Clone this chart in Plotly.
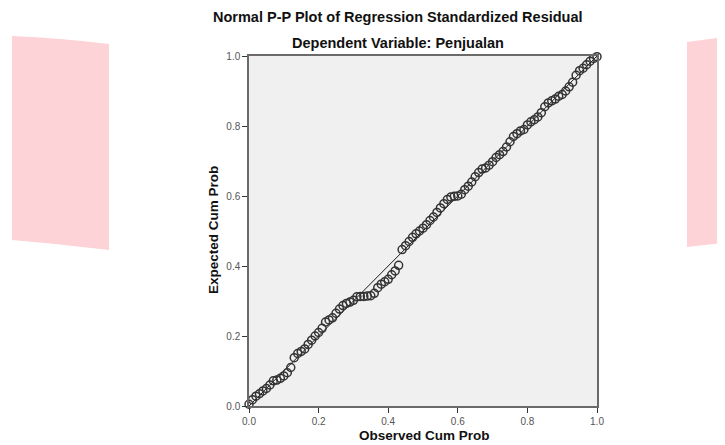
import plotly.graph_objects as go

# Observed cumulative probability (x) and expected cumulative probability (y)
observed_cum_prob = [
    0.00, 0.01, 0.02, 0.03, 0.04, 0.05, 0.06, 0.07, 0.08, 0.09,
    0.10, 0.11, 0.12, 0.13, 0.14, 0.15, 0.16, 0.17, 0.18, 0.19,
    0.20, 0.21, 0.22, 0.23, 0.24, 0.25, 0.26, 0.27, 0.28, 0.29,
    0.30, 0.31, 0.32, 0.33, 0.34, 0.35, 0.36, 0.37, 0.38, 0.39,
    0.40, 0.41, 0.42, 0.43, 0.44, 0.45, 0.46, 0.47, 0.48, 0.49,
    0.50, 0.51, 0.52, 0.53, 0.54, 0.55, 0.56, 0.57, 0.58, 0.59,
    0.60, 0.61, 0.62, 0.63, 0.64, 0.65, 0.66, 0.67, 0.68, 0.69,
    0.70, 0.71, 0.72, 0.73, 0.74, 0.75, 0.76, 0.77, 0.78, 0.79,
    0.80, 0.81, 0.82, 0.83, 0.84, 0.85, 0.86, 0.87, 0.88, 0.89,
    0.90, 0.91, 0.92, 0.93, 0.94, 0.95, 0.96, 0.97, 0.98, 0.99, 1.00,
]
expected_cum_prob = [
    0.005, 0.018, 0.028, 0.035, 0.043, 0.050, 0.060, 0.072, 0.074, 0.079,
    0.086, 0.095, 0.110, 0.138, 0.150, 0.156, 0.163, 0.176, 0.188, 0.200,
    0.210, 0.222, 0.240, 0.246, 0.252, 0.265, 0.277, 0.287, 0.293, 0.297,
    0.302, 0.312, 0.313, 0.313, 0.314, 0.315, 0.322, 0.338, 0.348, 0.355,
    0.362, 0.375, 0.386, 0.402, 0.447, 0.458, 0.470, 0.482, 0.492, 0.500,
    0.508, 0.518, 0.530, 0.540, 0.553, 0.566, 0.578, 0.590, 0.597, 0.599,
    0.600, 0.605, 0.618, 0.628, 0.640, 0.655, 0.667, 0.677, 0.680, 0.688,
    0.698, 0.710, 0.718, 0.727, 0.740, 0.755, 0.770, 0.778, 0.786, 0.790,
    0.803, 0.812, 0.818, 0.826, 0.838, 0.855, 0.866, 0.872, 0.877, 0.885,
    0.890, 0.900, 0.912, 0.925, 0.945, 0.958, 0.965, 0.975, 0.985, 0.993, 0.998,
]
reference_line = [0.0, 1.0]
tick_values = [0.0, 0.2, 0.4, 0.6, 0.8, 1.0]
tick_labels = ["0.0", "0.2", "0.4", "0.6", "0.8", "1.0"]

title_text = "Normal P-P Plot of Regression Standardized Residual"
subtitle_text = "Dependent Variable: Penjualan"
x_title = "Observed Cum Prob"
y_title = "Expected Cum Prob"

FONT = "Liberation Sans, Arial, sans-serif"

# The page body has an 8px margin, so the figure is drawn from (8, 8).
OFF = 8
PL, PR, PT, PB = 249, 597, 56, 406  # plot area in page pixels


def px_x(px):
    return (px - PL) / (PR - PL)


def px_y(py):
    return (PB - py) / (PB - PT)


fig = go.Figure()
fig.add_trace(go.Scatter(
    x=reference_line, y=reference_line, mode="lines",
    line=dict(color="#1a1a1a", width=1), hoverinfo="skip", showlegend=False,
))
fig.add_trace(go.Scatter(
    x=observed_cum_prob, y=expected_cum_prob, mode="markers",
    marker=dict(symbol="circle-open", size=8, color="#333333", line=dict(width=1.5)),
    cliponaxis=False, showlegend=False,
))

axis_common = dict(
    range=[0, 1], tickvals=tick_values, ticktext=tick_labels,
    showgrid=False, zeroline=False, showline=True, linecolor="#6a6a6a",
    linewidth=1.5, mirror=True, ticks="outside", ticklen=5, tickcolor="#333333",
    tickfont=dict(family=FONT, size=10, color="#555555"),
    fixedrange=True,
)
fig.update_xaxes(**axis_common)
fig.update_yaxes(**axis_common)

pink = "#FDD3D7"
shapes = [
    dict(type="path", xref="paper", yref="paper",
         path=f"M {px_x(12):.4f} {px_y(36):.4f} Q {px_x(60):.4f} {px_y(38):.4f} {px_x(109):.4f} {px_y(44):.4f} "
              f"L {px_x(109):.4f} {px_y(250):.4f} Q {px_x(60):.4f} {px_y(244):.4f} {px_x(12):.4f} {px_y(240):.4f} Z",
         fillcolor=pink, line=dict(width=0), layer="below"),
    dict(type="path", xref="paper", yref="paper",
         path=f"M {px_x(687):.4f} {px_y(42):.4f} Q {px_x(706):.4f} {px_y(39):.4f} {px_x(725):.4f} {px_y(37):.4f} "
              f"L {px_x(725):.4f} {px_y(243):.4f} Q {px_x(706):.4f} {px_y(245):.4f} {px_x(687):.4f} {px_y(247):.4f} Z",
         fillcolor=pink, line=dict(width=0), layer="below"),
]

annotations = [
    dict(text="<b>" + title_text + "</b>", xref="paper", yref="paper",
         x=px_x(398), y=px_y(17), showarrow=False,
         xanchor="center", yanchor="middle",
         font=dict(family=FONT, size=14.5, color="#111111")),
    dict(text="<b>" + subtitle_text + "</b>", xref="paper", yref="paper",
         x=px_x(398), y=px_y(43), showarrow=False,
         xanchor="center", yanchor="middle",
         font=dict(family=FONT, size=14.5, color="#111111")),
    dict(text="<b>" + x_title + "</b>", xref="paper", yref="paper",
         x=px_x(424), y=px_y(436), showarrow=False,
         xanchor="center", yanchor="middle",
         font=dict(family=FONT, size=13.5, color="#111111")),
    dict(text="<b>" + y_title + "</b>", xref="paper", yref="paper",
         x=px_x(213), y=px_y(230), showarrow=False,
         xanchor="center", yanchor="middle", textangle=-90,
         font=dict(family=FONT, size=13.5, color="#111111")),
]

W, H = 725 - OFF, 445 - OFF
fig.update_layout(
    width=W, height=H,
    margin=dict(l=PL - OFF, r=W - (PR - OFF), t=PT - OFF, b=H - (PB - OFF)),
    paper_bgcolor="white", plot_bgcolor="#F0F0F0",
    shapes=shapes, annotations=annotations,
    showlegend=False,
)

fig.write_html("out.html")
